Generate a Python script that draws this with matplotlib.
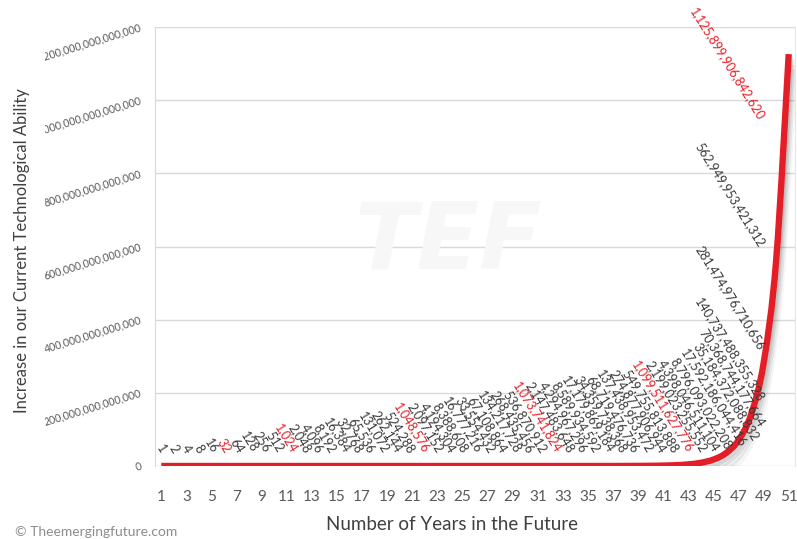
import matplotlib
matplotlib.use("Agg")
import matplotlib.pyplot as plt
import matplotlib.patheffects as pe
from matplotlib.path import Path
from matplotlib.patches import PathPatch
from matplotlib.transforms import Bbox, IdentityTransform

plt.rcParams['font.family'] = ['Lato', 'DejaVu Sans']

# years in the future
years = list(range(1, 52))
# increase in technological ability (values as labelled on the chart)
ability = [1, 2, 4, 8, 16, 32, 64, 128, 256, 512,
           1024, 2048, 4096, 8192, 16384, 32768, 65536, 131072, 262144, 524288,
           1048576, 2097152, 4194304, 8388608, 16777216, 33554432, 67108864,
           134217728, 268435456, 536870912,
           1073741824, 2147483648, 4294967296, 8589934592, 17179869184,
           34359738368, 68719476736, 137438953472, 274877906944, 549755813888,
           1099511627776, 2199023255552, 4398046511104, 8796093022208,
           17592186044416, 35184372088832, 70368744177664, 140737488355328,
           281474976710656, 562949953421312,
           1125899906842620]
# years whose label is shown in red
red_years = [6, 11, 21, 31, 41, 51]
yticks = [0, 200000000000000, 400000000000000, 600000000000000,
          800000000000000, 1000000000000000, 1200000000000000]
xticks = list(range(1, 52, 2))

RED = '#e41e26'
GREY = '#595959'

fig = plt.figure(figsize=(7.97, 5.39), dpi=100)
ax = fig.add_axes([155 / 797, 1 - 466 / 539, 640 / 797, 439 / 539])

# faint watermark
fig.text(448 / 797, 1 - 242 / 539, 'TEF', fontsize=66, fontweight='bold',
         style='italic', color='#f7f7f7', ha='center', va='center', zorder=0,
         family='DejaVu Sans')

# smoothed line (Excel style) through the data points
pts = list(zip(years, ability))
verts = [pts[0]]
codes = [Path.MOVETO]
for i in range(len(pts) - 1):
    p0 = pts[max(i - 1, 0)]
    p1 = pts[i]
    p2 = pts[i + 1]
    p3 = pts[min(i + 2, len(pts) - 1)]
    c1 = (p1[0] + (p2[0] - p0[0]) / 6, p1[1] + (p2[1] - p0[1]) / 6)
    c2 = (p2[0] - (p3[0] - p1[0]) / 6, p2[1] - (p3[1] - p1[1]) / 6)
    verts += [c1, c2, p2]
    codes += [Path.CURVE4] * 3
curve = PathPatch(Path(verts, codes), facecolor='none', edgecolor=RED, lw=4.6,
                  capstyle='butt', joinstyle='round', zorder=3,
                  path_effects=[pe.SimpleLineShadow(offset=(1, -3), shadow_color='#000000', alpha=0.10),
                                pe.SimpleLineShadow(offset=(2, -5), shadow_color='#000000', alpha=0.08),
                                pe.SimpleLineShadow(offset=(3, -8), shadow_color='#000000', alpha=0.06),
                                pe.SimpleLineShadow(offset=(4, -11), shadow_color='#000000', alpha=0.04),
                                pe.Normal()])
ax.add_patch(curve)

ax.set_xlim(0.5, 51.5)
ax.set_ylim(0, 1200000000000000)
ax.set_xticks(xticks)
ax.set_xticklabels([str(x) for x in xticks])
ax.set_yticks(yticks)
ax.set_yticklabels(['{:,}'.format(v) for v in yticks])
ax.tick_params(axis='x', length=0, pad=17, labelsize=11, labelcolor=GREY)
ax.tick_params(axis='y', length=0, pad=10, labelsize=7.6, labelcolor=GREY)
for lab in ax.get_yticklabels():
    lab.set_rotation(17)
    lab.set_rotation_mode('anchor')
    lab.set_ha('right')
    lab.set_va('center')
    lab.set_clip_on(True)
    lab.set_clip_box(Bbox.from_extents(45, 0, 797, 539))

ax.grid(axis='y', color='#d9d9d9', lw=1)
ax.set_axisbelow(True)
for s in ['top', 'bottom']:
    ax.spines[s].set_visible(False)
ax.spines['left'].set_color('#d9d9d9')
ax.spines['right'].set_color('#e6e6e6')

fig.text(22 / 797, 1 - 251 / 539, 'Increase in our Current Technological Ability',
         rotation=90, ha='center', va='center', fontsize=12, color='#404040')
fig.text(452 / 797, 1 - 524 / 539, 'Number of Years in the Future',
         ha='center', va='center', fontsize=13.5, color='#404040')
fig.text(15 / 797, 1 / 539, '\u00a9 Theemergingfuture.com', ha='left', va='bottom',
         fontsize=10, color='#8c8c8c')

# data labels, kept inside the chart like the original
fig.canvas.draw()
renderer = fig.canvas.get_renderer()
for yr, val in zip(years, ability):
    px, py = ax.transData.transform((yr, val))
    t = fig.text(px, py + 11, '{:,}'.format(val), transform=IdentityTransform(),
                 ha='center', va='bottom', rotation=-58, fontsize=9,
                 color=RED if yr in red_years else '#383838', zorder=5)
    ext = t.get_window_extent(renderer)
    dx = min(0, 767 - ext.x1)
    dy = min(0, 533 - ext.y1)
    t.set_position((px + dx, py + 11 + dy))

fig.savefig('out.png', dpi=100)
